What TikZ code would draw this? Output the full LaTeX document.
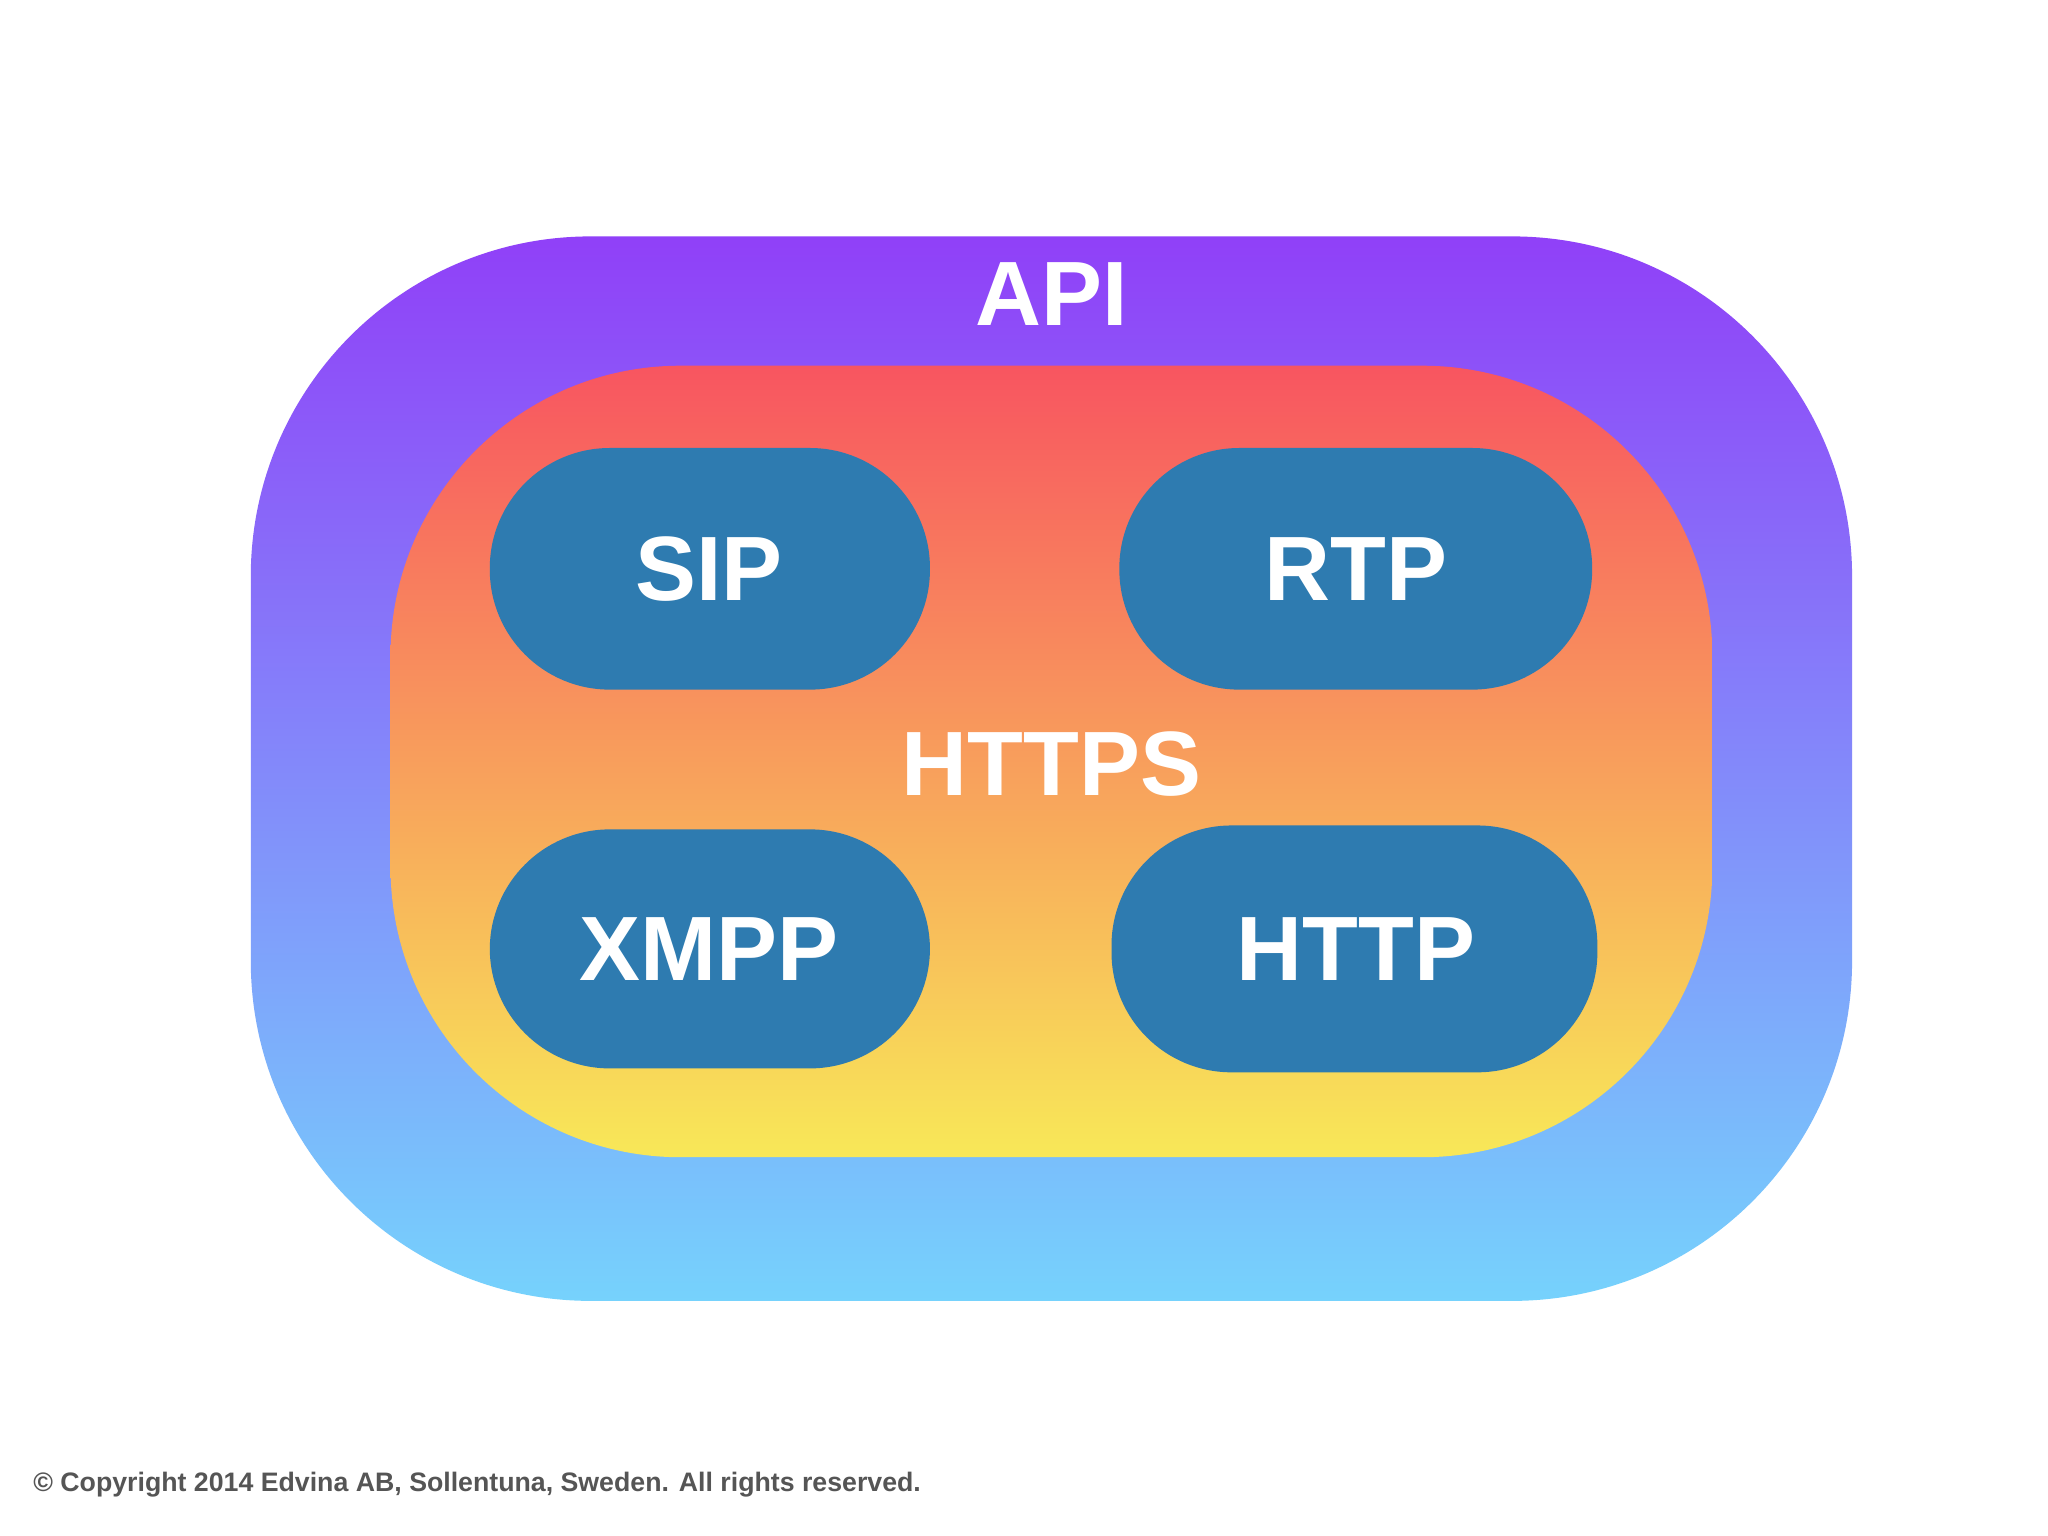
\documentclass[tikz,border=0pt]{standalone}
\usepackage{fontspec}
\setmainfont{Liberation Sans}
\begin{document}
\begin{tikzpicture}[x=0.01306cm,y=-0.01306cm,
  box/.style={fill=boxc,draw=none,rounded corners=1.2cm},
  lbl/.style={text=white,font=\bfseries\fontsize{26}{30}\selectfont,inner sep=0}]
\definecolor{boxc}{HTML}{2E7BB0}
\useasboundingbox[fill=white] (0,0) rectangle (1568,1176);
\shade[rounded corners=3.4cm,top color={rgb,255:red,144;green,64;blue,248},middle color={rgb,255:red,128;green,150;blue,250},bottom color={rgb,255:red,118;green,210;blue,252}] (192,181) rectangle (1418,996);
\shade[rounded corners=2.9cm,top color={rgb,255:red,248;green,85;blue,96},middle color={rgb,255:red,248;green,176;blue,88},bottom color={rgb,255:red,248;green,232;blue,88}] (299,280) rectangle (1311,886);
\node[lbl] (api) at (805,225) {API};
\node[lbl] (https) at (805,585) {HTTPS};
\fill[box] (375,343) rectangle (712,528);
\node[lbl] (sip) at (543,436) {SIP};
\fill[box] (857,343) rectangle (1219,528);
\node[lbl] (rtp) at (1038,436) {RTP};
\fill[box] (375,635) rectangle (712,818);
\node[lbl] (xmpp) at (543,727) {XMPP};
\fill[box] (851,632) rectangle (1223,821);
\node[lbl] (http) at (1038,727) {HTTP};
\node[anchor=west,inner sep=0,text={rgb,255:red,85;green,85;blue,85},font=\bfseries\fontsize{7.6}{9}\selectfont] (copy) at (25,1137) {© Copyright 2014 Edvina AB, Sollentuna, Sweden. All rights reserved.};
\end{tikzpicture}
\end{document}
